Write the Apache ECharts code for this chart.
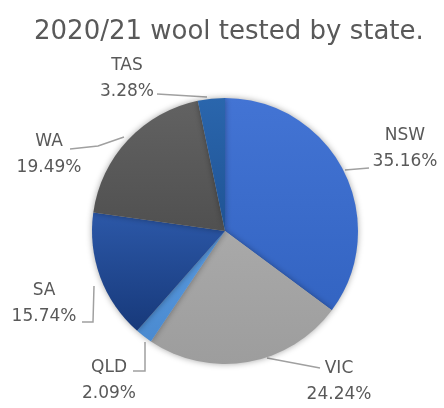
<!DOCTYPE html>
<html><head><meta charset="utf-8">
<script src="https://cdn.jsdelivr.net/npm/echarts@6/dist/echarts.min.js"></script>
<style>html,body{margin:0;padding:0;background:#fff}#c{width:444px;height:408px}</style>
</head><body><div id="c"></div>
<script>
const categories = ['NSW', 'VIC', 'QLD', 'SA', 'WA', 'TAS'];
const values = [35.16, 24.24, 2.09, 15.74, 19.49, 3.28];
const colorsTop = ['#4374d4', '#a9a9a9', '#5a9be0', '#2c58a8', '#626262', '#2a66ad'];
const colorsBottom = ['#3364c2', '#9d9d9d', '#4a8ad0', '#17397a', '#505050', '#1f5394'];
// label layout: text block centre and leader-line points
const labelLayoutCfg = {
  NSW: { pos: [405, 149], line: [[345, 170], [369, 168]] },
  VIC: { pos: [339, 382], line: [[267, 358], [320, 368]] },
  QLD: { pos: [109, 381], line: [[145, 342], [145, 371], [133, 371]] },
  SA:  { pos: [44, 304],  line: [[94, 286], [93, 322], [82, 322]] },
  WA:  { pos: [49, 155],  line: [[124, 137], [98, 146], [70, 149]] },
  TAS: { pos: [127, 79],  line: [[207, 97], [157, 94]] }
};

const chart = echarts.init(document.getElementById('c'));
chart.setOption({
  animation: false,
  title: {
    text: '2020/21 wool tested by state.',
    left: 29, top: 14,
    textStyle: { fontFamily: 'DejaVu Sans', fontSize: 26, fontWeight: 'normal', color: '#595959' }
  },
  series: [{
    type: 'pie',
    center: [225, 231],
    radius: 133,
    startAngle: 90,
    clockwise: true,
    data: categories.map((c, i) => ({
      name: c, value: values[i],
      itemStyle: {
        color: { type: 'linear', x: 0, y: 0, x2: 0, y2: 1,
          colorStops: [{ offset: 0, color: colorsTop[i] }, { offset: 1, color: colorsBottom[i] }] }
      }
    })),
    itemStyle: { borderWidth: 0, shadowBlur: 6, shadowColor: 'rgba(0,0,0,0.35)' },
    label: {
      show: true,
      formatter: p => p.name + '\n' + p.value.toFixed(2) + '%',
      fontFamily: 'DejaVu Sans', fontSize: 17, color: '#595959',
      lineHeight: 26, align: 'center', overflow: 'none'
    },
    labelLine: { show: true, smooth: false, lineStyle: { color: '#a0a0a0', width: 1.5 } },
    labelLayout: function (params) {
      const cfg = labelLayoutCfg[categories[params.dataIndex]];
      return { x: cfg.pos[0], y: cfg.pos[1], align: 'center', verticalAlign: 'middle',
               labelLinePoints: cfg.line };
    }
  }]
});
</script></body></html>
